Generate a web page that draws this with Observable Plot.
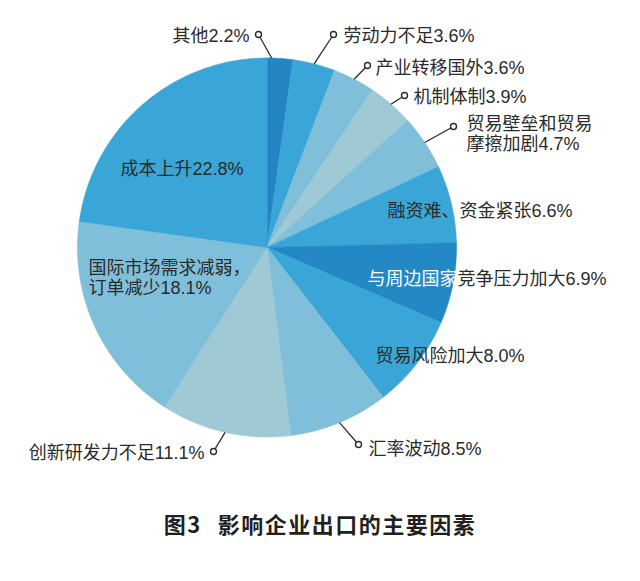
<!DOCTYPE html>
<html>
<head>
<meta charset="utf-8">
<script src="https://cdn.jsdelivr.net/npm/d3@7"></script>
<script src="https://cdn.jsdelivr.net/npm/@observablehq/plot@0.6"></script>
<style>
  html, body { margin: 0; padding: 0; background: #fff; }
  #chart svg { display: block; }
  #title { width: 640px; text-align: center; font-family: "Noto Sans CJK SC", "Liberation Sans", sans-serif; font-weight: 700; font-size: 22px; color: #231f20; line-height: 66px; letter-spacing: 1.5px; }
</style>
</head>
<body>
<div id="chart"></div>
<div id="title">图3<span style="margin-left:16px">影响企业出口的主要因素</span></div>
<script>
// ---- data ----
const categories = ["其他", "劳动力不足", "产业转移国外", "机制体制", "贸易壁垒和贸易摩擦加剧", "融资难、资金紧张", "与周边国家竞争压力加大", "贸易风险加大", "汇率波动", "创新研发力不足", "国际市场需求减弱，订单减少", "成本上升"];
const values = [2.2, 3.6, 3.6, 3.9, 4.7, 6.6, 6.9, 8.0, 8.5, 11.1, 18.1, 22.8];

// ---- styles / layout (not data) ----
const palette = ["#2385c1", "#3aa6d7", "#80bfd9", "#a0c9d6", "#80bfd9", "#3aa6d7", "#2389c4", "#3aa6d7", "#80bfd9", "#a0c9d6", "#80bfd9", "#3aa6d7"];
const W = 640, H = 490;
const cx = 266.5, cy = 247, R = 189.5;
const textColor = "#2b2b2b";
const fontSize = 18;
// whiteChars: number of leading characters that sit inside the pie and are drawn in white
const labelLayout = [
  {x: 249, y: 35, anchor: "end", dot: [258, 34], lineAngle: 1.4},
  {x: 343, y: 35, anchor: "start", dot: [333, 34]},
  {x: 375, y: 67, anchor: "start", dot: [367, 65]},
  {x: 413, y: 96, anchor: "start", dot: [404, 95]},
  {x: 466, y: 133, anchor: "start", dot: [453, 126], br: 7},
  {x: 387, y: 210, anchor: "start"},
  {x: 367, y: 278, anchor: "start", whiteChars: 5},
  {x: 375, y: 355, anchor: "start"},
  {x: 368, y: 448, anchor: "start", dot: [358, 444]},
  {x: 204, y: 452, anchor: "end", dot: [213, 451]},
  {x: 88, y: 277, anchor: "start", br: 9},
  {x: 120, y: 168, anchor: "start"}
];

// ---- geometry derived from data ----
const arcs = d3.pie().sort(null).value(d => d).startAngle(0).endAngle(2 * Math.PI)(values);
const slicePts = [];
arcs.forEach((p, i) => {
  const n = Math.max(2, Math.ceil((p.endAngle - p.startAngle) / (Math.PI / 360)));
  slicePts.push({cat: categories[i], x: cx, y: cy});
  for (let k = 0; k <= n; k++) {
    const a = p.startAngle + (p.endAngle - p.startAngle) * k / n;
    slicePts.push({cat: categories[i], x: cx + R * Math.sin(a), y: cy - R * Math.cos(a)});
  }
});

const darkLabels = [], whiteLabels = [];
categories.forEach((c, i) => {
  const L = labelLayout[i];
  let t = c + values[i].toFixed(1) + "%";
  if (L.whiteChars) {
    whiteLabels.push({text: t.slice(0, L.whiteChars), x: L.x, y: L.y});
    darkLabels.push({text: t.slice(L.whiteChars), x: L.x + L.whiteChars * fontSize, y: L.y, anchor: "start"});
    return;
  }
  if (L.br) t = t.slice(0, L.br) + "\n" + t.slice(L.br);
  darkLabels.push({text: t, x: L.x, y: L.y, anchor: L.anchor});
});

const leaders = [];
arcs.forEach((p, i) => {
  const L = labelLayout[i];
  if (!L.dot) return;
  const a = L.lineAngle != null ? L.lineAngle * Math.PI / 180 : (p.startAngle + p.endAngle) / 2;
  leaders.push({x1: cx + R * Math.sin(a), y1: cy - R * Math.cos(a), x2: L.dot[0], y2: L.dot[1]});
});

const font = "'Liberation Sans', 'Noto Sans CJK SC', sans-serif";
const txt = (data, anchor, fill) => Plot.text(data, {
  x: "x", y: "y", text: "text", textAnchor: anchor,
  fontSize, lineHeight: 1.11, lineAnchor: "middle", fill, fontFamily: font
});

const plot = Plot.plot({
  width: W, height: H, margin: 0,
  x: {domain: [0, W], range: [0, W], axis: null},
  y: {domain: [0, H], range: [0, H], axis: null},
  color: {domain: categories, range: palette},
  style: {fontFamily: font, background: "white"},
  marks: [
    Plot.line(slicePts, {x: "x", y: "y", z: "cat", fill: "cat", stroke: "cat", strokeWidth: 0.6, curve: "linear-closed"}),
    Plot.link(leaders, {x1: "x1", y1: "y1", x2: "x2", y2: "y2", stroke: textColor, strokeWidth: 1.3}),
    Plot.dot(leaders, {x: "x2", y: "y2", r: 3, fill: "white", stroke: textColor, strokeWidth: 1.4}),
    txt(darkLabels.filter(d => d.anchor === "start"), "start", textColor),
    txt(darkLabels.filter(d => d.anchor === "end"), "end", textColor),
    txt(whiteLabels, "start", "white")
  ]
});

document.getElementById("chart").appendChild(plot);
</script>
</body>
</html>
